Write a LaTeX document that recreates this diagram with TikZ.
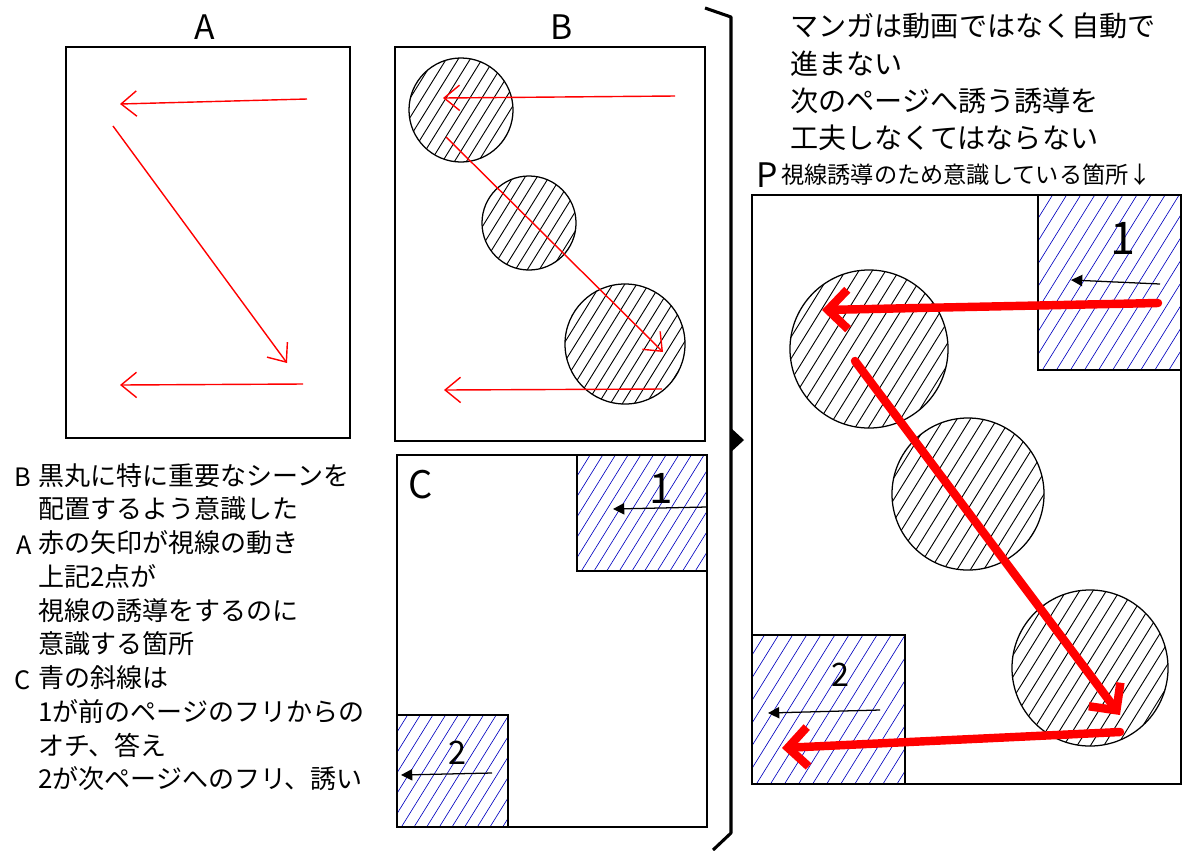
\documentclass[tikz,border=0pt]{standalone}
\usepackage{fontspec}
\setmainfont{Noto Sans CJK JP}
\usetikzlibrary{arrows.meta,positioning}

\begin{document}
\begin{tikzpicture}[
    x=0.025cm, y=-0.025cm,
    frame/.style={draw, line width=1.3pt},
    hatch/.style 2 args={path picture={
        \foreach \k in {0,...,36}
            \draw[#1] ([xshift=\k*#2-90pt, yshift=-5pt]path picture bounding box.south west) -- ++(90pt,145pt);
    }},
    disk/.style={circle, draw, line width=0.9pt, inner sep=0pt, hatch={black, line width=0.65pt}{8.5pt}},
    bluebox/.style={draw, line width=1.2pt, hatch={blue!75!black, line width=0.45pt}{9pt}},
    eyeline/.style={red, line width=1pt, -{Straight Barb[length=11pt, width=18pt]}},
    boldeye/.style={red, line width=6pt, line cap=round, -{Straight Barb[length=14pt, width=28pt]}},
    flow/.style={black, line width=0.9pt, -{Triangle[length=8pt, width=8pt]}},
    tag/.style={font=\fontsize{24}{24}\selectfont},
    num/.style={font=\fontsize{30}{30}\selectfont},
    note/.style={align=left, inner sep=0pt, anchor=north west}
]
    \useasboundingbox (0,0) rectangle (1200,850);

    % --- A: reading order ---
    \node[tag] (titleA) at (205,27) {A};
    \draw[frame] (66,47) rectangle (350,438);
    \coordinate (a1s) at (307,99);  \coordinate (a1e) at (120,104);
    \coordinate (a2s) at (113,126); \coordinate (a2e) at (287,363);
    \coordinate (a3s) at (303,384); \coordinate (a3e) at (120,385);
    \draw[eyeline] (a1s) -- (a1e);
    \draw[eyeline] (a2s) -- (a2e);
    \draw[eyeline] (a3s) -- (a3e);

    % --- B: key scenes on the path ---
    \node[tag] (titleB) at (562,27) {B};
    \draw[frame] (395,47) rectangle (705,441);
    \node[disk, minimum size=2.6cm] (b1) at (461,110) {};
    \node[disk, minimum size=2.35cm] (b2) at (529,223) {};
    \node[disk, minimum size=3.0cm] (b3) at (625,344) {};
    \coordinate (b1s) at (675,96);  \coordinate (b1e) at (443,98);
    \coordinate (b2s) at (446,137); \coordinate (b2e) at (663,352);
    \coordinate (b3s) at (662,389); \coordinate (b3e) at (444,390);
    \draw[eyeline] (b1s) -- (b1e);
    \draw[eyeline] (b2s) -- (b2e);
    \draw[eyeline] (b3s) -- (b3e);

    % --- C: page turn corners ---
    \draw[frame] (397,455) rectangle (707,827);
    \node[tag, font=\fontsize{27}{27}\selectfont] (titleC) at (421,485) {C};
    \draw[bluebox] (577,455) rectangle (707,571);
    \draw[bluebox] (397,715) rectangle (508,827);
    \node[num] (c1num) at (661,488) {1};
    \node[num, font=\fontsize{23}{23}\selectfont] (c2num) at (457,753) {2};
    \coordinate (c1s) at (707,507); \coordinate (c1e) at (613,509);
    \coordinate (c2s) at (492,773); \coordinate (c2e) at (401,775);
    \draw[flow] (c1s) -- (c1e);
    \draw[flow] (c2s) -- (c2e);

    % --- bracket ---
    \draw[line width=2.2pt, line join=round] (705,8) -- (731,17) -- (731,833) -- (713,850);
    \fill (731,428) -- (744,440) -- (731,452) -- cycle;

    % --- notes ---
    \node[note, font=\fontsize{20}{26.5}\selectfont] (goal) at (790,13)
        {マンガは動画ではなく自動で\\進まない\\次のページへ誘う誘導を\\工夫しなくてはならない};
    \node[tag] (titleD) at (767,175) {P};
    \node[anchor=west, inner sep=0pt, font=\fontsize{16.5}{16.5}\selectfont] (pointD) at (781,175)
        {視線誘導のため意識している箇所↓};

    \node[tag, font=\fontsize{18}{18}\selectfont] (keyB) at (23,477) {B};
    \node[tag, font=\fontsize{18}{18}\selectfont] (keyA) at (24,545) {A};
    \node[tag, font=\fontsize{18}{18}\selectfont] (keyC) at (23,680) {C};
    \node[note, font=\fontsize{18.5}{24}\selectfont] (memo) at (38,463)
        {黒丸に特に重要なシーンを\\配置するよう意識した\\赤の矢印が視線の動き\\上記2点が\\視線の誘導をするのに\\意識する箇所\\青の斜線は\\1が前のページのフリからの\\オチ、答え\\2が次ページへのフリ、誘い};

    % --- D: the full page ---
    \draw[frame] (752,195) rectangle (1181,784);
    \draw[bluebox, hatch={blue!75!black, line width=0.45pt}{10pt}] (1038,195) rectangle (1181,370);
    \draw[bluebox, hatch={blue!75!black, line width=0.45pt}{10pt}] (752,635) rectangle (905,784);
    \node[num, font=\fontsize{32}{32}\selectfont] (d1num) at (1123,238) {1};
    \node[num, font=\fontsize{23}{23}\selectfont] (d2num) at (840,675) {2};
    \coordinate (d1fs) at (1160,284); \coordinate (d1fe) at (1071,280);
    \coordinate (d2fs) at (880,710);  \coordinate (d2fe) at (768,713);
    \draw[flow] (d1fs) -- (d1fe);
    \draw[flow] (d2fs) -- (d2fe);

    \node[disk, minimum size=3.95cm, hatch={black, line width=0.65pt}{9.5pt}] (d1) at (869,349) {};
    \node[disk, minimum size=3.8cm, hatch={black, line width=0.65pt}{9.5pt}] (d2) at (968,494) {};
    \node[disk, minimum size=3.9cm, hatch={black, line width=0.65pt}{9.5pt}] (d3) at (1090,668) {};

    \coordinate (e1s) at (1158,303); \coordinate (e1e) at (822,310);
    \coordinate (e2s) at (855,361);  \coordinate (e2e) at (1120,715);
    \coordinate (e3s) at (1120,732); \coordinate (e3e) at (782,748);
    \draw[boldeye] (e1s) -- (e1e);
    \draw[boldeye] (e2s) -- (e2e);
    \draw[boldeye] (e3s) -- (e3e);
\end{tikzpicture}
\end{document}
